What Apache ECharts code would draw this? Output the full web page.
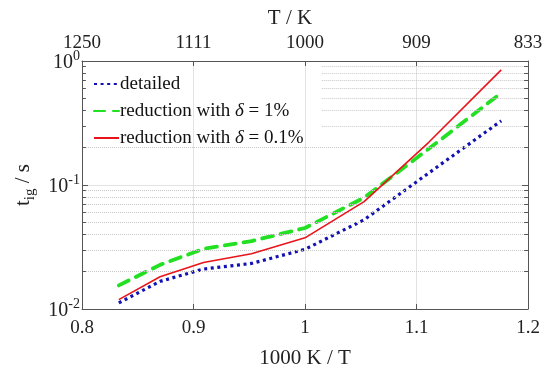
<!DOCTYPE html>
<html><head><meta charset="utf-8">
<script src="https://cdn.jsdelivr.net/npm/echarts@6/dist/echarts.min.js"></script>
<style>html,body{margin:0;padding:0;background:#fff}#c{width:550px;height:374px}</style>
</head><body><div id="c"></div>
<script>
// 1000 K / T positions of the simulated temperatures
const xValues = [0.833, 0.870, 0.909, 0.952, 1.0, 1.053, 1.111, 1.176];
const detailed = [0.0112, 0.0167, 0.0210, 0.0233, 0.0303, 0.0524, 0.125, 0.329];
const reduction1 = [0.0155, 0.0227, 0.0306, 0.0353, 0.0450, 0.079, 0.196, 0.553];
const reduction01 = [0.0119, 0.0182, 0.0237, 0.0279, 0.0375, 0.0735, 0.221, 0.848];
const seriesNames = ['detailed', 'reduction with δ = 1%', 'reduction with δ = 0.1%'];
const bottomTicks = [0.8, 0.9, 1.0, 1.1, 1.2];
const topTickLabels = ['1250', '1111', '1000', '909', '833'];
const minorFull = [0.02, 0.03, 0.04, 0.05, 0.06, 0.07, 0.08, 0.09, 0.2];
const minorPartial = [0.3, 0.4, 0.5, 0.6, 0.7, 0.8, 0.9];

const FONT = '"Liberation Serif", "Times New Roman", serif';
const pair = (a, b) => a.map((v, i) => [v, b[i]]);
const minorAll = minorFull.concat(minorPartial);

const gridLine = { type: 'dotted', color: '#c8c8c8', width: 1 };
const tickLine = { type: 'solid', color: '#555', width: 1 };
const markData = [];
minorFull.forEach(v => markData.push({ yAxis: v, lineStyle: gridLine }));
minorPartial.forEach(v => markData.push([{ coord: [1.015, v], lineStyle: gridLine }, { coord: [1.2, v] }]));
minorAll.forEach(v => {
  markData.push([{ coord: [0.8, v], lineStyle: tickLine }, { coord: [0.8035, v] }]);
  markData.push([{ coord: [1.1965, v], lineStyle: tickLine }, { coord: [1.2, v] }]);
});

const chart = echarts.init(document.getElementById('c'));
const axisLine = { show: true, lineStyle: { color: '#555', width: 1 } };
const lbl = { fontFamily: FONT, fontSize: 19, color: '#222' };
const yLabelFmt = v => {
  const e = Math.round(Math.log10(v));
  return '{b|10}{s|' + (e < 0 ? '-' + (-e) : e) + '}';
};
const yRich = {
  b: { fontFamily: FONT, fontSize: 20, color: '#222', lineHeight: 24, verticalAlign: 'bottom' },
  s: { fontFamily: FONT, fontSize: 14, color: '#222', lineHeight: 14, verticalAlign: 'top' }
};

chart.setOption({
  animation: false,
  backgroundColor: '#fff',
  grid: { left: 82, right: 22, top: 61, bottom: 62 },
  legend: {
    left: 88, top: 69, orient: 'vertical', padding: 5, itemGap: 7,
    itemWidth: 25, itemHeight: 14,
    itemStyle: { opacity: 0 },
    data: seriesNames,
    formatter: n => {
      const i = n.indexOf('δ');
      if (i < 0) return '{n|' + n + '}';
      return '{n|' + n.slice(0, i) + '}{i|δ}{n|' + n.slice(i + 1) + '}';
    },
    textStyle: {
      fontFamily: FONT, fontSize: 19, color: '#111', lineHeight: 20, padding: [0, 0, 0, -4],
      rich: {
        n: { fontFamily: FONT, fontSize: 19, color: '#111' },
        i: { fontFamily: FONT, fontSize: 19, color: '#111', fontStyle: 'italic' }
      }
    }
  },
  xAxis: [{
    type: 'value', min: 0.8, max: 1.2, interval: 0.1, position: 'bottom',
    name: '1000 K / T', nameLocation: 'middle', nameGap: 39,
    nameTextStyle: { fontFamily: FONT, fontSize: 21, color: '#222' },
    axisLine: axisLine,
    axisTick: { show: true, inside: true, length: 5, lineStyle: { color: '#555' } },
    axisLabel: Object.assign({ margin: 10, formatter: v => String(+v.toFixed(1)) }, lbl),
    splitLine: { show: true, lineStyle: { color: '#e2e2e2', width: 1 } }
  }, {
    type: 'value', min: 0.8, max: 1.2, interval: 0.1, position: 'top',
    name: 'T / K', nameLocation: 'middle', nameGap: 29,
    nameTextStyle: { fontFamily: FONT, fontSize: 21, color: '#222', padding: [0, 30, 0, 0] },
    axisLine: axisLine,
    axisTick: { show: true, inside: true, length: 5, lineStyle: { color: '#555' } },
    axisLabel: Object.assign({
      margin: 8,
      formatter: v => {
        const i = bottomTicks.findIndex(t => Math.abs(t - v) < 1e-6);
        return i >= 0 ? topTickLabels[i] : '';
      }
    }, lbl),
    splitLine: { show: false }
  }],
  yAxis: [{
    type: 'log', logBase: 10, min: 0.01, max: 1, position: 'left',
    name: '{t|t}{sub|ig}{t| / s}', nameLocation: 'middle', nameGap: 56, nameRotate: 90,
    nameTextStyle: {
      align: 'center', verticalAlign: 'middle',
      rich: {
        t: { fontFamily: FONT, fontSize: 21, color: '#222', lineHeight: 24, verticalAlign: 'top' },
        sub: { fontFamily: FONT, fontSize: 15, color: '#222', lineHeight: 15, verticalAlign: 'bottom' }
      }
    },
    axisLine: axisLine,
    axisTick: { show: true, inside: true, length: 6, lineStyle: { color: '#555' } },
    axisLabel: { margin: 2, formatter: yLabelFmt, rich: yRich },
    splitLine: { show: true, lineStyle: { color: '#e2e2e2', width: 1 } }
  }, {
    type: 'log', logBase: 10, min: 0.01, max: 1, position: 'right',
    axisLine: axisLine,
    axisTick: { show: true, inside: true, length: 6, lineStyle: { color: '#555' } },
    axisLabel: { show: false },
    splitLine: { show: false }
  }],
  series: [{
    name: seriesNames[0], type: 'line', symbol: 'none', data: pair(xValues, detailed),
    lineStyle: { color: '#1212b4', width: 3.2, type: [3, 3.6], cap: 'butt' },
    itemStyle: { color: '#1212b4' }, z: 3,
    markLine: { silent: true, symbol: ['none', 'none'], label: { show: false }, animation: false, data: markData }
  }, {
    name: seriesNames[1], type: 'line', symbol: 'none', data: pair(xValues, reduction1),
    lineStyle: { color: '#22e022', width: 3.8, type: [11, 8], cap: 'round' },
    itemStyle: { color: '#22e022' }, z: 4
  }, {
    name: seriesNames[2], type: 'line', symbol: 'none', data: pair(xValues, reduction01),
    lineStyle: { color: '#e8141a', width: 1.6, type: 'solid' },
    itemStyle: { color: '#e8141a' }, z: 5
  }]
});
</script></body></html>
